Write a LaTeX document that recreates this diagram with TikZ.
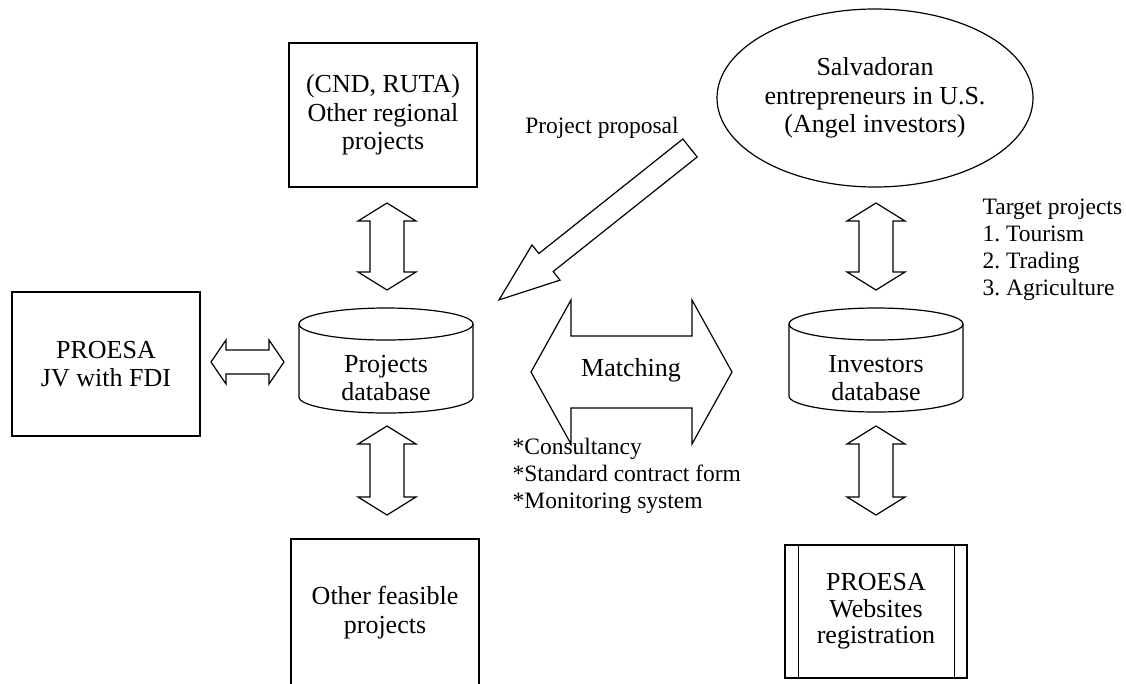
\documentclass[tikz,border=0pt]{standalone}
\usepackage{fontspec}
\setmainfont{Liberation Serif}
\usetikzlibrary{shapes.geometric,calc}
\frenchspacing
\begin{document}
\begin{tikzpicture}[x=1pt,y=1pt,line width=1.2pt,
  lbl/.style={font=\fontsize{26}{28.5}\selectfont, align=center, inner sep=0pt},
  note/.style={font=\fontsize{23.5}{27}\selectfont, align=left, inner sep=0pt, anchor=west},
  boxnode/.style={draw, rectangle, lbl},
  blk/.style={draw, line width=1.2pt, fill=white, line join=miter},
  pics/dbl/.style n args={4}{code={
    \draw[blk] (0,0) -- (#4,#2) -- (#4,#3) -- ({#1-#4},#3) -- ({#1-#4},#2) -- (#1,0)
      -- ({#1-#4},-#2) -- ({#1-#4},-#3) -- (#4,-#3) -- (#4,-#2) -- cycle;}},
  pics/single/.style n args={4}{code={
    \draw[blk] (0,#3) -- ({#1-#4},#3) -- ({#1-#4},#2) -- (#1,0)
      -- ({#1-#4},-#2) -- ({#1-#4},-#3) -- (0,-#3) -- cycle;}}
]
\useasboundingbox (0,0) rectangle (1126,-683);
\clip (0,0) rectangle (1126,-683);
\fill[white] (0,0) rectangle (1126,-683);

% boxes
\node[boxnode, minimum width=188, minimum height=144] (cnd) at (383,-115)
  {(CND, RUTA)\\Other regional\\projects};
\node[boxnode, minimum width=188, minimum height=144] (proesa) at (106,-364)
  {PROESA\\JV with FDI};
\node[boxnode, minimum width=188, minimum height=147] (other) at (385,-612.5)
  {Other feasible\\projects};
\node[boxnode, minimum width=182, minimum height=133, font=\fontsize{26}{26.5}\selectfont] (web) at (876,-611.5)
  {PROESA\\Websites\\registration};
\draw ([xshift=14pt]web.north west) -- ([xshift=14pt]web.south west);
\draw ([xshift=-13pt]web.north east) -- ([xshift=-13pt]web.south east);

% ellipse
\node[draw, ellipse, minimum width=316, minimum height=178, lbl] (angel) at (875,-98)
  {Salvadoran\\entrepreneurs in U.S.\\(Angel investors)};

% cylinders
\draw (299,-324) -- (299,-397) arc[start angle=180, end angle=360, x radius=87, y radius=16] -- (473,-324);
\draw (386,-324) ellipse [x radius=87, y radius=16];
\node[lbl] (projdb) at (386,-378) {Projects\\database};
\draw (789,-324) -- (789,-396) arc[start angle=180, end angle=360, x radius=87, y radius=16] -- (963,-324);
\draw (876,-324) ellipse [x radius=87, y radius=16];
\node[lbl] (invdb) at (876,-378) {Investors\\database};

% block arrows
\coordinate (a1) at (387,-203);
\coordinate (a2) at (387,-426);
\coordinate (a3) at (876,-203);
\coordinate (a4) at (876,-426);
\coordinate (a5) at (211,-362);
\coordinate (a6) at (531,-372);
\coordinate (a7) at (690,-148);
\pic[rotate=-90] at (a1) {dbl={87}{29}{17}{18}};
\pic[rotate=-90] at (a2) {dbl={89}{29}{17}{18}};
\pic[rotate=-90] at (a3) {dbl={87}{29}{17}{18}};
\pic[rotate=-90] at (a4) {dbl={89}{29}{17}{18}};
\pic at (a5) {dbl={73}{22}{12}{15}};
\pic at (a6) {dbl={201}{72}{36}{40}};
\pic[rotate=218.5] at (a7) {single={244}{22.5}{11.5}{60}};

% labels
\node[lbl] (match) at (631,-370) {Matching};
\node[lbl, font=\fontsize{23.5}{27}\selectfont] (prop) at (602,-128) {Project proposal};
\node[note] (serv) at (512,-475.5) {*Consultancy\\*Standard contract form\\*Monitoring system};
\node[note] (target) at (982,-250) {Target projects\\1. Tourism\\2. Trading\\3. Agriculture};
\end{tikzpicture}
\end{document}
